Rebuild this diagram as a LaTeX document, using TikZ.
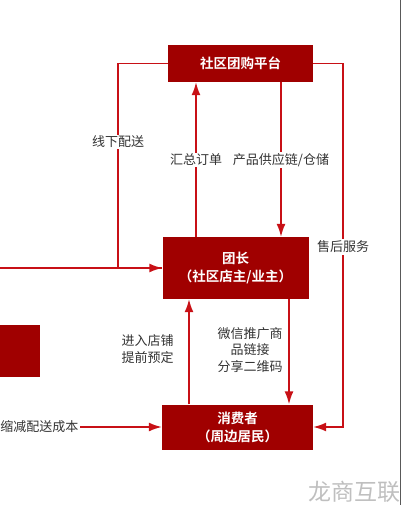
\documentclass[tikz,border=0pt]{standalone}
\usepackage{fontspec}
\setmainfont{Noto Sans CJK SC}[BoldFont={Noto Sans CJK SC Bold}]
\usetikzlibrary{arrows.meta}
\definecolor{boxred}{RGB}{160,0,0}
\definecolor{linered}{RGB}{200,16,22}
\definecolor{textgray}{RGB}{51,51,51}

\begin{document}
\begin{tikzpicture}[x=1pt, y=-1pt,
			box/.style={fill=boxred, text=white, align=center, inner sep=0pt,
				font=\bfseries\fontsize{13.5}{18}\selectfont},
			tag/.style={fill=white, text=textgray, align=center, inner sep=1.5pt,
				font=\fontsize{13}{16.5}\selectfont},
			flow/.style={draw=linered, line width=1.6pt},
			>={Latex[length=13pt,width=9pt]}]
	\useasboundingbox (0,0) rectangle (402,505);
	\clip (0,0) rectangle (402,505);
	% boxes
	\node[box, minimum width=145pt, minimum height=37pt] (platform) at (240.5,63.5) {社区团购平台};
	\node[box, minimum width=146pt, minimum height=62pt] (leader) at (235.5,268) {团长\\（社区店主/业主）};
	\node[box, minimum width=151pt, minimum height=45pt] (consumer) at (237.5,427) {消费者\\（周边居民）};
	\node[box, minimum width=100pt, minimum height=52pt] (depot) at (-10,351) {};
	% turning points and free ends
	\coordinate (offline) at (118,142);
	\coordinate (aftersale) at (343,247);
	\coordinate (leftin) at (-5,268);
	\coordinate (orderx) at (196,0);
	\coordinate (supplyx) at (281,0);
	\coordinate (visitx) at (189,0);
	\coordinate (sharex) at (289,0);
	% connectors
	\draw[flow] (platform.west) -| (offline) |- (leader.west);
	\draw[flow, ->] (leftin) -- (leader.west);
	\draw[flow, ->] (leader.north -| orderx) -- (platform.south -| orderx);
	\draw[flow, ->] (platform.south -| supplyx) -- (leader.north -| supplyx);
	\draw[flow, ->] (platform.east) -| (aftersale) |- (consumer.east);
	\draw[flow, ->] (consumer.north -| visitx) -- (leader.south -| visitx);
	\draw[flow, ->] (leader.south -| sharex) -- (consumer.north -| sharex);
	\node[tag, anchor=east] (saving) at (80,427) {缩减配送成本};
	\draw[flow, ->] (saving.east) -- (consumer.west);
	% labels
	\node[tag] at (offline) {线下配送};
	\node[tag] at (196,160) {汇总订单};
	\node[tag] at (281,160) {产品供应链/仓储};
	\node[tag] at (aftersale) {售后服务};
	\node[tag, fill=none] at (147.5,349) {进入店铺\\提前预定};
	\node[tag, fill=none] at (250,350) {微信推广商\\品链接\\分享二维码};
	\node[text=black!25, font=\fontsize{23}{23}\selectfont] (watermark) at (354,492) {龙商互联};
	\draw[black!65, line width=0.8pt] (400.5,0) -- (400.5,505);
\end{tikzpicture}
\end{document}
